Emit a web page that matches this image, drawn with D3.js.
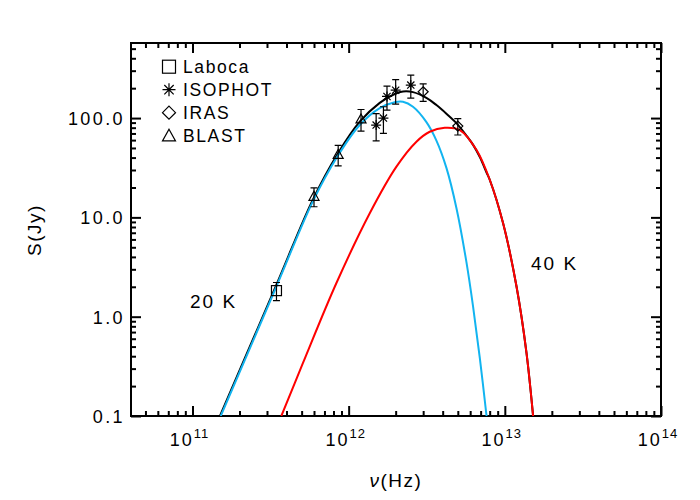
<!DOCTYPE html>
<html>
<head>
<meta charset="utf-8">
<script src="https://cdn.jsdelivr.net/npm/d3@7"></script>
<style>
body { margin:0; background:#fff; }
text { font-family:"Liberation Sans", Arial, sans-serif; fill:#000; }
</style>
</head>
<body>
<script>
// model curves (nu in Hz, S in Jy)
var nuCold = [1.517e11, 3.44e11, 5.90e11, 8.53e11, 1.178e12, 1.581e12, 1.972e12, 2.228e12, 2.582e12, 3.148e12, 3.648e12, 4.227e12, 4.898e12, 5.675e12, 6.266e12, 6.918e12, 7.638e12];
var sCold  = [0.1, 2.0, 14.5, 41.7, 85.1, 125.9, 144.5, 145.9, 130, 91.0, 59.3, 31.5, 12.45, 3.56, 1.256, 0.383, 0.1];

var nuWarm = [3.707e11, 5.093e11, 8.337e11, 1.365e12, 2.023e12, 2.716e12, 3.304e12, 4.121e12, 5.152e12, 6.592e12, 8.017e12, 9.75e12, 1.189e13, 1.377e13, 1.517e13];
var sWarm  = [0.1, 0.34, 2.17, 11.0, 32.4, 57.8, 72.8, 79.8, 75.7, 47.6, 23.8, 8.71, 2.0, 0.43, 0.1];

var nuTotal = [1.50e11, 3.44e11, 5.90e11, 8.53e11, 1.178e12, 1.581e12, 1.972e12, 2.228e12, 2.582e12, 3.148e12, 3.648e12, 4.227e12, 4.898e12, 5.675e12, 6.266e12, 6.918e12, 7.638e12, 8.017e12, 9.75e12, 1.189e13, 1.377e13, 1.517e13];
var sTotal  = [0.1, 2.08, 15.1, 44.0, 91.9, 142.3, 174.7, 185.1, 182.4, 159.7, 135.2, 110.7, 89.0, 66.7, 53.7, 40.5, 28.3, 23.8, 8.71, 2.0, 0.43, 0.1];

// measurements
var labocaNu = [3.45e11];
var labocaS = [1.83];
var labocaErr = [0.38];

var isoNu = [1.5e12, 1.67e12, 1.76e12, 2.0e12, 2.5e12];
var isoS = [85, 100, 165, 191, 215];
var isoErr = [26, 30, 45, 53, 56];

var irasNu = [3.0e12, 5.0e12];
var irasS = [184, 83];
var irasErr = [37, 15.5];

var blastNu = [6.0e11, 8.57e11, 1.2e12];
var blastS = [16.3, 43, 98];
var blastErr = [3.5, 10, 24];

var legendNames = ["Laboca", "ISOPHOT", "IRAS", "BLAST"];
var legendSyms = ["square", "asterisk", "diamond", "triangle"];

var xMajor = [1e11, 1e12, 1e13, 1e14];
var xMajorExp = ["11", "12", "13", "14"];
var yMajor = [0.1, 1, 10, 100];
var yMajorText = ["0.1", "1.0", "10.0", "100.0"];

var svg = d3.select("body").append("svg")
  .attr("width",700)
  .attr("height",500);

var plotL = 131, plotR = 661, plotT = 43, plotB = 416;

var x = d3.scaleLog().domain([4.04e10, 1e14]).range([plotL, plotR]);
var y = d3.scaleLog().domain([0.1, 570]).range([plotB, plotT]);

function isMajor(v) {
  var l = Math.log10(v);
  return Math.abs(l - Math.round(l)) < 1e-6;
}
var xMinor = x.ticks().filter(function(v){ return !isMajor(v); });
var yMinor = y.ticks().filter(function(v){ return !isMajor(v); });

svg.append("clipPath")
  .attr("id","plotClip")
  .append("rect")
    .attr("x",plotL)
    .attr("y",plotT)
    .attr("width",plotR-plotL)
    .attr("height",plotB-plotT);

// ticks on all four sides, pointing inward
function addTicks(axisFn, scale, vals, len, tx, ty) {
  var g = svg.append("g")
    .attr("transform","translate(" + tx + "," + ty + ")")
    .call(axisFn(scale).tickValues(vals).tickSize(-len).tickSizeOuter(0).tickFormat(""));
  g.select(".domain").remove();
  g.selectAll("line")
    .attr("stroke","#000")
    .attr("stroke-width",2);
}
addTicks(d3.axisBottom, x, xMajor, 10, 0, plotB);
addTicks(d3.axisBottom, x, xMinor, 5, 0, plotB);
addTicks(d3.axisTop, x, xMajor, 10, 0, plotT);
addTicks(d3.axisTop, x, xMinor, 5, 0, plotT);
addTicks(d3.axisLeft, y, yMajor, 10, plotL, 0);
addTicks(d3.axisLeft, y, yMinor, 5, plotL, 0);
addTicks(d3.axisRight, y, yMajor, 10, plotR, 0);
addTicks(d3.axisRight, y, yMinor, 5, plotR, 0);

svg.append("rect")
  .attr("x",plotL)
  .attr("y",plotT)
  .attr("width",plotR-plotL)
  .attr("height",plotB-plotT)
  .attr("fill","none")
  .attr("stroke","#000")
  .attr("stroke-width",2);

// tick labels
xMajor.forEach(function(v, i) {
  var t = svg.append("text")
    .attr("x",x(v) - 3)
    .attr("y",446)
    .attr("text-anchor","middle")
    .style("font-size","18px")
    .style("letter-spacing","2px");
  t.append("tspan").text("10");
  t.append("tspan")
    .attr("dy",-8)
    .style("font-size","13px")
    .style("letter-spacing","1px")
    .text(xMajorExp[i]);
});

yMajor.forEach(function(v, i) {
  svg.append("text")
    .attr("x",125)
    .attr("y",y(v) + 7)
    .attr("text-anchor","end")
    .style("font-size","18px")
    .style("letter-spacing","2.4px")
    .text(yMajorText[i]);
});

// axis titles
var xt = svg.append("text")
  .attr("x",396)
  .attr("y",487)
  .attr("text-anchor","middle")
  .style("font-size","19px")
  .style("letter-spacing","1.5px");
xt.append("tspan").style("font-style","italic").text("ν");
xt.append("tspan").text("(Hz)");

svg.append("text")
  .attr("transform","translate(41,230) rotate(-90)")
  .attr("text-anchor","middle")
  .style("font-size","19px")
  .style("letter-spacing","1.5px")
  .text("S(Jy)");

// curves
var line = d3.line()
  .x(function(d){ return x(d[0]); })
  .y(function(d){ return y(d[1]); })
  .curve(d3.curveCatmullRom.alpha(0.5));

var curves = svg.append("g").attr("clip-path","url(#plotClip)");

curves.append("path")
  .attr("d",line(d3.zip(nuTotal, sTotal)))
  .attr("fill","none")
  .attr("stroke","#000")
  .attr("stroke-width",2);
curves.append("path")
  .attr("d",line(d3.zip(nuCold, sCold)))
  .attr("fill","none")
  .attr("stroke","#12b4f0")
  .attr("stroke-width",2);
curves.append("path")
  .attr("d",line(d3.zip(nuWarm, sWarm)))
  .attr("fill","none")
  .attr("stroke","#ff0000")
  .attr("stroke-width",2);

// plot symbols
function drawSymbol(g, type, cx, cy, r) {
  if (type == "square") {
    g.append("rect")
      .attr("x",cx-r).attr("y",cy-r)
      .attr("width",2*r).attr("height",2*r)
      .attr("fill","none").attr("stroke","#000").attr("stroke-width",1.2);
  } else if (type == "diamond") {
    g.append("path")
      .attr("d","M" + cx + "," + (cy-r) + "L" + (cx+r) + "," + cy + "L" + cx + "," + (cy+r) + "L" + (cx-r) + "," + cy + "Z")
      .attr("fill","none").attr("stroke","#000").attr("stroke-width",1.2);
  } else if (type == "triangle") {
    g.append("path")
      .attr("d","M" + cx + "," + (cy-r) + "L" + (cx+r) + "," + (cy+0.8*r) + "L" + (cx-r) + "," + (cy+0.8*r) + "Z")
      .attr("fill","none").attr("stroke","#000").attr("stroke-width",1.2);
  } else if (type == "asterisk") {
    var d = 0.72*r;
    g.append("path")
      .attr("d","M" + (cx-r) + "," + cy + "H" + (cx+r)
        + "M" + cx + "," + (cy-r) + "V" + (cy+r)
        + "M" + (cx-d) + "," + (cy-d) + "L" + (cx+d) + "," + (cy+d)
        + "M" + (cx-d) + "," + (cy+d) + "L" + (cx+d) + "," + (cy-d))
      .attr("fill","none").attr("stroke","#000").attr("stroke-width",1.2);
  }
}

var pts = svg.append("g");
function drawSet(nu, s, err, type) {
  nu.forEach(function(v, i) {
    var cx = x(v), lo = y(s[i] - err[i]), hi = y(s[i] + err[i]);
    pts.append("path")
      .attr("d","M" + cx + "," + lo + "V" + hi
        + "M" + (cx-3.5) + "," + lo + "H" + (cx+3.5)
        + "M" + (cx-3.5) + "," + hi + "H" + (cx+3.5))
      .attr("fill","none")
      .attr("stroke","#000")
      .attr("stroke-width",1.2);
    drawSymbol(pts, type, cx, y(s[i]), 5);
  });
}
drawSet(labocaNu, labocaS, labocaErr, "square");
drawSet(blastNu, blastS, blastErr, "triangle");
drawSet(isoNu, isoS, isoErr, "asterisk");
drawSet(irasNu, irasS, irasErr, "diamond");

// legend
legendNames.forEach(function(name, i) {
  var cy = 66.7 + i*23;
  drawSymbol(svg, legendSyms[i], 169, cy, 6.5);
  svg.append("text")
    .attr("x",183)
    .attr("y",cy + 6.5)
    .style("font-size","17.5px")
    .style("letter-spacing","1.6px")
    .text(name);
});

// temperature labels
svg.append("text")
  .attr("x",190)
  .attr("y",308)
  .style("font-size","19px")
  .style("letter-spacing","2px")
  .text("20  K");
svg.append("text")
  .attr("x",531)
  .attr("y",270)
  .style("font-size","19px")
  .style("letter-spacing","2px")
  .text("40  K");
</script>
</body>
</html>
